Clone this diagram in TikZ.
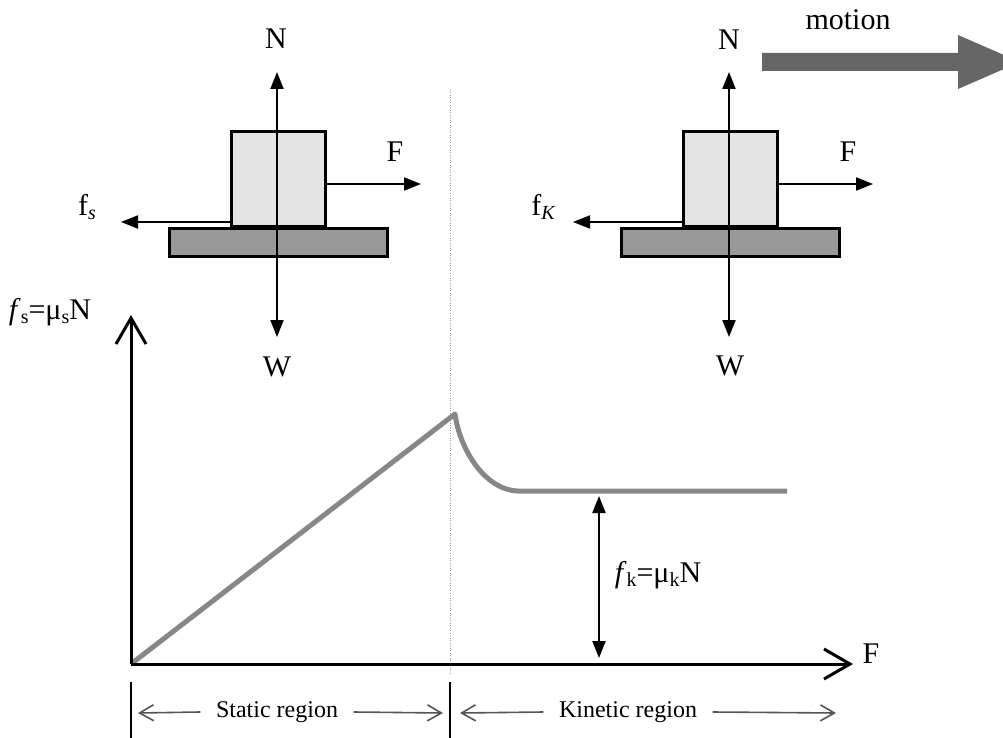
\documentclass[tikz,border=0pt]{standalone}
\usepackage{fontspec}
\setmainfont{Liberation Serif}
\usetikzlibrary{arrows.meta}
\definecolor{blockfill}{HTML}{E4E4E4}
\definecolor{basefill}{HTML}{999999}
\definecolor{curvecol}{HTML}{878787}
\definecolor{motioncol}{HTML}{666666}
\definecolor{regioncol}{HTML}{555555}
\definecolor{dotcol}{HTML}{9A9A9A}
\newcommand\lowsub[1]{\raisebox{-4pt}{\fontsize{20}{20}\selectfont #1}}
\begin{document}
\begin{tikzpicture}[x=1pt,y=-1pt,
  lbl/.style={inner sep=0pt, font=\fontsize{30}{36}\selectfont},
  regionlbl/.style={inner ysep=0pt, inner xsep=15.5pt, font=\fontsize{24}{28}\selectfont},
  blockbox/.style={draw, line width=3pt, fill=blockfill, minimum width=94pt, minimum height=94pt, inner sep=0pt, outer sep=0pt},
  basebox/.style={draw, line width=3pt, fill=basefill, minimum width=218pt, minimum height=28pt, inner sep=0pt, outer sep=0pt},
  force/.style={line width=2pt, -{Triangle[length=17pt,width=13pt]}},
  bothforce/.style={line width=2pt, {Triangle[length=17pt,width=13pt]}-{Triangle[length=17pt,width=13pt]}},
  axisline/.style={line width=3pt, -{Straight Barb[length=26pt,width=30pt,line width=3pt]}},
  regionarrow/.style={line width=1.6pt, draw=regioncol, -{Straight Barb[length=14pt,width=16pt,line width=1.6pt]}},
  ticks/.style={line width=1.5pt},
  curve/.style={line width=5pt, draw=curvecol, line join=round}]
\useasboundingbox (0,0) rectangle (1003,738);
\clip (0,0) rectangle (1003,738);

% ---------- left free-body diagram (static) ----------
\node[basebox] (pL) at (278,242) {};
\node[blockbox] (bL) at (278,179) {};
\coordinate (nLt) at (277,72);
\coordinate (wLt) at (277,337);
\coordinate (fLt) at (421,184);
\coordinate (sLt) at (121,222);
\draw[bothforce] (nLt) -- (wLt);
\draw[force] ([yshift=-5pt]bL.east) -- (fLt);
\draw[force] ([yshift=-43pt]bL.west) -- (sLt);
\node[lbl] (NL) at (276,39) {N};
\node[lbl] (WL) at (277,367) {W};
\node[lbl] (FL) at (395,152) {F};
\node[lbl] (fsL) at (87,207) {f\lowsub{\itshape s}};

% ---------- right free-body diagram (kinetic) ----------
\node[basebox] (pR) at (730,242) {};
\node[blockbox] (bR) at (730,179) {};
\coordinate (nRt) at (729,72);
\coordinate (wRt) at (729,337);
\coordinate (fRt) at (873,184);
\coordinate (kRt) at (573,222);
\draw[bothforce] (nRt) -- (wRt);
\draw[force] ([yshift=-5pt]bR.east) -- (fRt);
\draw[force] ([yshift=-43pt]bR.west) -- (kRt);
\node[lbl] (NR) at (729,40) {N};
\node[lbl] (WR) at (730,366) {W};
\node[lbl] (FR) at (848,152) {F};
\node[lbl] (fkR) at (543,207) {f\lowsub{\itshape K}};

% motion arrow
\node[lbl] (motion) at (848,20) {motion};
\fill[motioncol] (762,53) -- (958,53) -- (958,35) -- (1020,62) -- (958,89) -- (958,71) -- (762,71) -- cycle;

% ---------- separator ----------
\draw[dotcol, line width=1pt, dash pattern=on 1pt off 1.5pt] (450,90) -- (450,673);

% ---------- graph ----------
\coordinate (origin) at (131,664);
\coordinate (ytip) at (131,315);
\coordinate (xtip) at (853,664);
\draw[curve] (origin) -- (455,414) .. controls (460,450) and (485,490) .. (518,491) -- (787,491);
\draw[axisline] (origin) -- (ytip);
\draw[axisline] (origin) -- (xtip);
\node[lbl] (ylab) at (50,312) {\textit{f}\lowsub{s}=μ\lowsub{s}N};
\node[lbl] (xlab) at (871,654) {F};
\coordinate (fkTop) at (599,496);
\coordinate (fkBot) at (599,658);
\draw[bothforce] (fkTop) -- (fkBot);
\node[lbl] (fklab) at (658,575) {\textit{f}\lowsub{k}=μ\lowsub{k}N};

% ---------- regions ----------
\coordinate (tickA) at (131,682);
\coordinate (tickAb) at (131,740);
\coordinate (tickB) at (450,682);
\coordinate (tickBb) at (450,740);
\draw[ticks] (tickA) -- (tickAb);
\draw[ticks] (tickB) -- (tickBb);
\node[regionlbl] (static) at (277,712) {Static region};
\node[regionlbl] (kinetic) at (628,712) {Kinetic region};
\coordinate (sA) at (138,713);
\coordinate (sB) at (443,713);
\coordinate (kA) at (460,713);
\coordinate (kB) at (836,713);
\draw[regionarrow] (static.west) -- (sA);
\draw[regionarrow] (static.east) -- (sB);
\draw[regionarrow] (kinetic.west) -- (kA);
\draw[regionarrow] (kinetic.east) -- (kB);
\end{tikzpicture}
\end{document}
